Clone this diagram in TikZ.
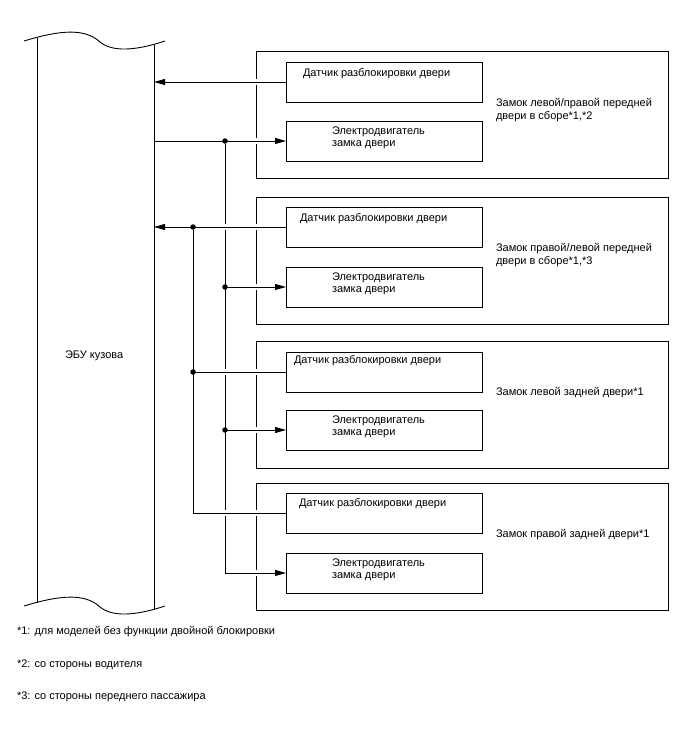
\documentclass[tikz,border=0pt]{standalone}
\usepackage{fontspec}
\setmainfont{Liberation Sans}
\usetikzlibrary{arrows.meta,calc}
\begin{document}
\begin{tikzpicture}[x=1pt,y=-1pt,
  every node/.style={inner sep=0pt, outer sep=0pt},
  txt/.style={font=\fontsize{11}{13}\selectfont, anchor=base west},
  outerbox/.style={draw, line width=0.9pt, minimum width=412pt, minimum height=127.5pt, anchor=north west},
  innerbox/.style={draw, line width=0.9pt, minimum width=196pt, minimum height=40pt, anchor=north west},
  wire/.style={line width=0.9pt},
  arr/.style={-{Triangle[length=11pt,width=6pt]}},
  bridge/.style={preaction={draw=white, line width=6pt, -, shorten <=5pt, shorten >=5pt}},
  jdot/.style={circle, fill=black, minimum size=5.5pt}]
\fill[white] (0,0) rectangle (688,755);
\useasboundingbox (0,0) rectangle (688,755);

% ECU
\node[minimum width=117pt, minimum height=560pt] (ecu) at (95.5,325) {};
\draw[line width=0.9pt] (24,41) .. controls (60,30) and (85,28) .. (100,42) .. controls (112,52) and (135,51) .. (165,41);
\draw[line width=0.9pt] (24,606) .. controls (60,595) and (85,593) .. (100,607) .. controls (112,617) and (135,616) .. (165,606);
\draw[line width=0.9pt] (37,38) -- (37,603);
\draw[line width=0.9pt] (154,45) -- (154,610);
\node[txt] (ecul) at (65,358) {ЭБУ кузова};

% outer boxes
\node[outerbox] (b1) at (256,51) {};
\node[outerbox] (b2) at (256,197) {};
\node[outerbox] (b3) at (256,341) {};
\node[outerbox] (b4) at (256,483) {};

% inner boxes
\node[innerbox] (s1) at (286,62) {};
\node[innerbox] (m1) at (286,121) {};
\node[innerbox] (s2) at (286,207) {};
\node[innerbox] (m2) at (286,267) {};
\node[innerbox] (s3) at (286,352) {};
\node[innerbox] (m3) at (286,410) {};
\node[innerbox] (s4) at (286,493) {};
\node[innerbox] (m4) at (286,553) {};

% texts
\node[txt] (s1t) at (303,76) {Датчик разблокировки двери};
\node[txt] (s2t) at (300,221) {Датчик разблокировки двери};
\node[txt] (s3t) at (294,363) {Датчик разблокировки двери};
\node[txt] (s4t) at (299,506) {Датчик разблокировки двери};
\foreach \m/\y in {m1/134, m2/280, m3/423, m4/566}{
  \node[txt] (\m ta) at (332,\y) {Электродвигатель};
  \node[txt] (\m tb) at (332,\y+12.5) {замка двери};
}
\node[txt] (b1ta) at (496,106) {Замок левой/правой передней};
\node[txt] (b1tb) at (496,119) {двери в сборе*1,*2};
\node[txt] (b2ta) at (496,251) {Замок правой/левой передней};
\node[txt] (b2tb) at (496,264) {двери в сборе*1,*3};
\node[txt] (b3t) at (496,395) {Замок левой задней двери*1};
\node[txt] (b4t) at (496,537) {Замок правой задней двери*1};

% footnotes
\node[txt] (f1) at (17,634) {*1: для моделей без функции двойной блокировки};
\node[txt] (f2) at (17,667) {*2: со стороны водителя};
\node[txt] (f3) at (17,699) {*3: со стороны переднего пассажира};

% junction coordinates
\coordinate (xA) at (225,0);
\coordinate (xB) at (193,0);
\coordinate (jA1) at (xA |- m1.west);
\coordinate (jA2) at (xA |- m2.west);
\coordinate (jA3) at (xA |- m3.west);
\coordinate (jB2) at (xB |- s2.west);
\coordinate (jB3) at (xB |- s3.west);

% buses
\draw[wire, arr, bridge] (jA1) |- (m4.west);
\draw[wire, bridge] (jB2) |- (s4.west);
% motor wires
\draw[wire, arr, bridge] (ecu.east |- m1.west) -- (m1.west);
\draw[wire, arr, bridge] (jA2) -- (m2.west);
\draw[wire, arr, bridge] (jA3) -- (m3.west);
% sensor wires
\draw[wire, arr, bridge] (s1.west) -- (ecu.east |- s1.west);
\draw[wire, arr, bridge] (s2.west) -- (ecu.east |- s2.west);
\draw[wire, bridge] (s3.west) -- (jB3);
% dots
\foreach \j in {jA1,jA2,jA3,jB2,jB3}{\node[jdot] at (\j) {};}
\end{tikzpicture}
\end{document}
